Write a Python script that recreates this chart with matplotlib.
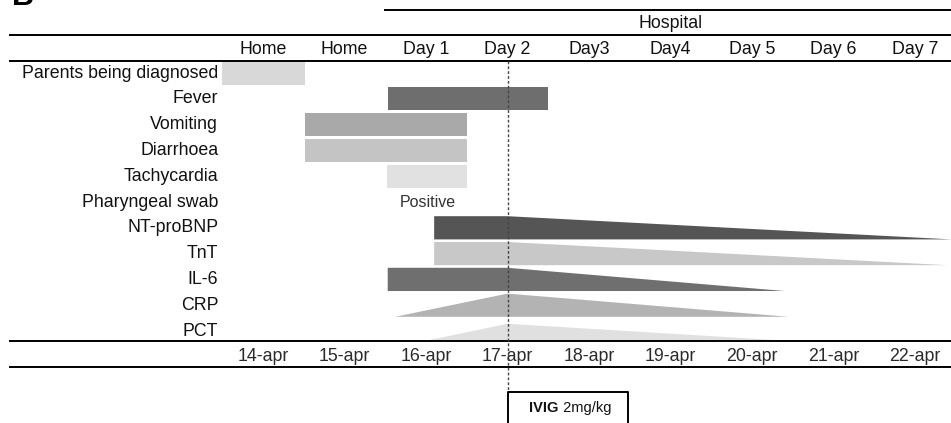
import numpy as np
import matplotlib.pyplot as plt

plt.rcParams['font.family'] = ['Liberation Sans', 'DejaVu Sans']

# rows (top to bottom)
row_labels = ['Parents being diagnosed', 'Fever', 'Vomiting', 'Diarrhoea', 'Tachycardia',
              'Pharyngeal swab', 'NT-proBNP', 'TnT', 'IL-6', 'CRP', 'PCT']

# column headers / dates (day index 0 = 14-apr)
day_labels = ['Home', 'Home', 'Day 1', 'Day 2', 'Day3', 'Day4', 'Day 5', 'Day 6', 'Day 7']
date_labels = ['14-apr', '15-apr', '16-apr', '17-apr', '18-apr', '19-apr', '20-apr', '21-apr', '22-apr']

# plain bars: row, start day, end day, colour
bar_rows = ['Parents being diagnosed', 'Fever', 'Vomiting', 'Diarrhoea', 'Tachycardia']
bar_start = [-0.5, 1.53, 0.52, 0.52, 1.52]
bar_end = [0.52, 3.5, 2.5, 2.5, 2.5]
bar_colors = ['#d8d8d8', '#6e6e6e', '#a9a9a9', '#c4c4c4', '#e1e1e1']

# lab values: start, peak (IVIG day), end; flat = stays at peak level before peak
lab_rows = ['NT-proBNP', 'TnT', 'IL-6', 'CRP', 'PCT']
lab_start = [2.1, 2.1, 1.53, 1.62, 1.95]
lab_peak = [3.0, 3.0, 3.0, 3.0, 3.0]
lab_end = [8.45, 8.4, 6.4, 6.45, 6.6]
lab_flat = [True, True, True, False, False]
lab_colors = ['#555555', '#c8c8c8', '#6f6f6f', '#b3b3b3', '#e0e0e0']

ivig_day = 3.0
swab_result = 'Positive'
swab_day = 2.02

fig = plt.figure(figsize=(9.51, 4.23), dpi=100)
ax = fig.add_axes([0, 0, 1, 1])
ax.set_axis_off()
# x: 81.5 px per day, day 0 at x=263 px ; y: 25.8 px per row, row 0 at y=73 px
ax.set_xlim(-263 / 81.5, (951 - 263) / 81.5)
ax.set_ylim((423 - 73) / 25.8, -73 / 25.8)

ypos = {lab: k for k, lab in enumerate(row_labels)}
h = 0.9
fs = 12.8
txt = '#111111'

for lab, k in ypos.items():
    ax.text(-0.55, k, lab, ha='right', va='center', fontsize=fs, color=txt)

for lab, s, e, c in zip(bar_rows, bar_start, bar_end, bar_colors):
    ax.barh(ypos[lab], e - s, left=s, height=h, color=c, edgecolor='none')

for lab, s, p, e, flat, c in zip(lab_rows, lab_start, lab_peak, lab_end, lab_flat, lab_colors):
    y = ypos[lab]
    top, bot = y - h / 2, y + h / 2
    if lab == 'PCT':
        top, bot = y - 0.28, y + 0.41
    if flat:
        xs = [s, s, p, e]
        ys = [bot, top, top, bot]
    else:
        xs = [s, p, e]
        ys = [bot, top, bot]
    ax.fill(xs, ys, color=c, linewidth=0)

ax.text(swab_day, ypos['Pharyngeal swab'], swab_result, ha='center', va='center',
        fontsize=fs - 1.3, color='#333333')

# header
x_left = -253 / 81.5
x_right = 8.44
y_hosp_line = (10 - 73) / 25.8
y_line1 = (35 - 73) / 25.8
y_head = (49 - 73) / 25.8
y_line2 = (61 - 73) / 25.8
y_line3 = (341 - 73) / 25.8
y_dates = (356 - 73) / 25.8
y_line4 = (367 - 73) / 25.8

ax.plot([1.5, x_right], [y_hosp_line] * 2, color='black', lw=1.4)
ax.text(5.0, (24 - 73) / 25.8, 'Hospital', ha='center', va='center', fontsize=fs, color=txt)
for yl in [y_line1, y_line2, y_line3, y_line4]:
    ax.plot([x_left, x_right], [yl, yl], color='black', lw=1.4)

for i, lab in enumerate(day_labels):
    ax.text(i, y_head, lab, ha='center', va='center', fontsize=fs, color=txt)
for i, lab in enumerate(date_labels):
    ax.text(i, y_dates, lab, ha='center', va='center', fontsize=fs, color='#2a2a2a')

# IVIG marker and box
y_box = (392 - 73) / 25.8
ax.plot([ivig_day, ivig_day], [y_line2, y_box], color='#444444', lw=1.0, ls=(0, (2, 1.5)))
box_w = 120 / 81.5
ax.plot([ivig_day, ivig_day, ivig_day + box_w, ivig_day + box_w],
        [14, y_box, y_box, 14], color='black', lw=1.4)
t = ax.text(ivig_day + 22 / 81.5, (408 - 73) / 25.8, 'IVIG', ha='left', va='center',
            fontsize=10.5, fontweight='bold', color=txt)
ax.annotate(' 2mg/kg', xycoords=t, xy=(1, 0.5), va='center', ha='left',
            fontsize=10.5, color=txt)

# panel letter (cut off at top, as in the original)
ax.text(-251 / 81.5, (5 - 73) / 25.8, 'B', ha='left', va='baseline', fontsize=22,
        fontweight='bold', color='black')

plt.savefig('out.png', dpi=100)
